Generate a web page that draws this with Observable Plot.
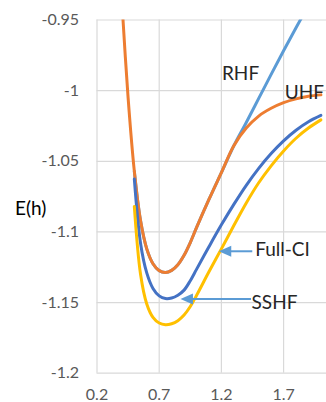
<!DOCTYPE html>
<html>
<head>
<meta charset="utf-8">
<script src="https://cdn.jsdelivr.net/npm/d3@7"></script>
<script src="https://cdn.jsdelivr.net/npm/@observablehq/plot@0.6"></script>
<style>
  html, body { margin: 0; padding: 0; background: #fff; }
  #chart { width: 326px; height: 402px; overflow: hidden; }
</style>
</head>
<body>
<div id="chart"></div>
<script>
// Bond length (x) values
const rUHF  = [0.4, 0.45, 0.5, 0.55, 0.6, 0.65, 0.7, 0.75, 0.8, 0.85, 0.9, 0.95, 1.0, 1.1, 1.2, 1.3, 1.4, 1.5, 1.6, 1.7, 1.8, 1.9, 2.0];
const rBond = [0.5, 0.55, 0.6, 0.65, 0.7, 0.75, 0.8, 0.85, 0.9, 0.95, 1.0, 1.1, 1.2, 1.3, 1.4, 1.5, 1.6, 1.7, 1.8, 1.9, 2.0];

// Energies E(h)
const eUHF  = [-0.937, -1.005, -1.057, -1.092, -1.112, -1.1225, -1.1274, -1.1287, -1.1272, -1.1232, -1.1165, -1.1075, -1.097, -1.077, -1.058, -1.039, -1.0265, -1.018, -1.0125, -1.0085, -1.0058, -1.004, -1.003];
const eRHF  = [-1.057, -1.092, -1.112, -1.1225, -1.1274, -1.1287, -1.1272, -1.1232, -1.1165, -1.1075, -1.097, -1.077, -1.058, -1.039, -1.0225, -1.0055, -0.9885, -0.9718, -0.9555, -0.9395, -0.924];
const eSSHF = [-1.0625, -1.108, -1.129, -1.140, -1.1453, -1.1472, -1.1468, -1.1448, -1.1412, -1.1345, -1.1265, -1.1105, -1.095, -1.0805, -1.067, -1.055, -1.0445, -1.0355, -1.028, -1.022, -1.0175];
const eFCI  = [-1.082, -1.130, -1.151, -1.1605, -1.1645, -1.1657, -1.165, -1.1628, -1.1588, -1.1528, -1.145, -1.1282, -1.112, -1.0955, -1.0795, -1.0652, -1.0532, -1.0427, -1.0337, -1.0265, -1.0207];

// Tick values
const xTicks = [0.2, 0.7, 1.2, 1.7];
const yTicks = [-1.2, -1.15, -1.1, -1.05, -1, -0.95];

// Series labels (annotation anchor points in data units, text centred)
const labelText = ["RHF", "UHF", "Full-CI", "SSHF"];
const labelX    = [1.354, 1.868, 1.691, 1.627];
const labelY    = [-0.9879, -1.0013, -1.1125, -1.150];

// Annotation arrows (tail x, tip x, y)
const arrowTail = [1.40, 1.39];
const arrowTip  = [1.179, 0.871];
const arrowY    = [-1.1137, -1.1475];

const series = [
  {x: rBond, y: eRHF,  color: "#5B9BD5"},
  {x: rUHF,  y: eUHF,  color: "#ED7D31"},
  {x: rBond, y: eSSHF, color: "#4472C4"},
  {x: rBond, y: eFCI,  color: "#FFC000"}
];

const leftTriangle = {
  draw(context) {
    context.moveTo(0, 0);
    context.lineTo(12.5, -5.5);
    context.lineTo(12.5, 5.5);
    context.closePath();
  }
};

const idx = (a) => a.map((_, i) => i);

const chart = Plot.plot({
  width: 326,
  height: 402,
  marginLeft: 96.5,
  marginRight: 0,
  marginTop: 19.5,
  marginBottom: 29.3,
  style: {fontFamily: "Lato, 'Open Sans', sans-serif", fontSize: "16px", color: "#595959", background: "#fff"},
  x: {domain: [0.2, 2.045], ticks: xTicks},
  y: {domain: [-1.2, -0.95], ticks: yTicks},
  marks: [
    Plot.gridX(xTicks, {stroke: "#d9d9d9", strokeOpacity: 1, strokeWidth: 1.2}),
    Plot.gridY(yTicks, {stroke: "#d9d9d9", strokeOpacity: 1, strokeWidth: 1.2}),
    Plot.axisX(xTicks, {tickSize: 0, tickPadding: 15, tickFormat: d => `${d}`, label: null, fontSize: 16}),
    Plot.axisY(yTicks, {tickSize: 0, tickPadding: 18, tickFormat: d => `${d}`, label: null, fontSize: 16}),
    ...series.map(s => Plot.line(idx(s.x), {
      x: i => s.x[i], y: i => s.y[i], stroke: s.color, strokeWidth: 3,
      curve: "catmull-rom", clip: true
    })),
    Plot.link(idx(arrowTail), {
      x1: i => arrowTail[i], x2: i => arrowTip[i], y1: i => arrowY[i], y2: i => arrowY[i],
      stroke: "#5B9BD5", strokeWidth: 2, dx: 6
    }),
    Plot.dot(idx(arrowTip), {
      x: i => arrowTip[i], y: i => arrowY[i], symbol: leftTriangle, fill: "#5B9BD5", stroke: null, r: 5
    }),
    Plot.text(idx(labelText), {
      x: i => labelX[i], y: i => labelY[i], text: i => labelText[i],
      textAnchor: "middle", fill: "#262626", fontSize: 19
    }),
    Plot.text(["E(h)"], {
      frameAnchor: "left", text: d => d, dx: -82, dy: 12, textAnchor: "start",
      fill: "#000", fontSize: 19
    })
  ]
});

document.getElementById("chart").appendChild(chart);
</script>
</body>
</html>
